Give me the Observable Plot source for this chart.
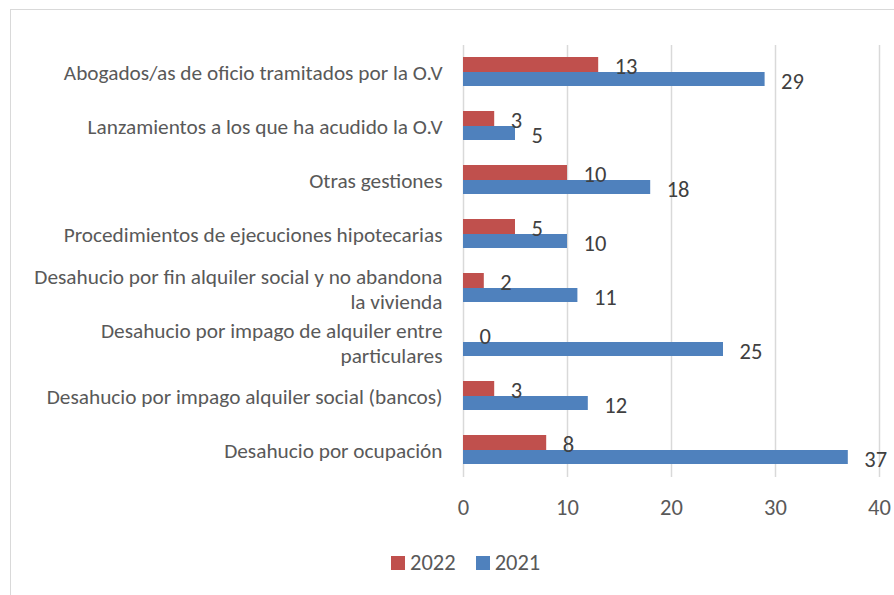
<!DOCTYPE html>
<html>
<head>
<meta charset="utf-8">
<script src="https://cdn.jsdelivr.net/npm/d3@7"></script>
<script src="https://cdn.jsdelivr.net/npm/@observablehq/plot@0.6"></script>
<style>
  html, body { margin: 0; padding: 0; background: #fff; overflow: hidden; }
  #wrap { position: relative; width: 894px; height: 595px; overflow: hidden; font-family: Calibri, Carlito, Lato, sans-serif; }
  #frame { position: absolute; left: 10px; top: 9px; width: 920px; height: 620px; border: 1.5px solid #d9d9d9; box-sizing: border-box; }
  #chart { position: absolute; left: 0; top: 0; }
  #legend { position: absolute; left: 391px; top: 549px; display: flex; align-items: center; font-size: 22.5px; color: #595959; line-height: 28px; }
  #legend .sw { display: inline-block; width: 14px; height: 14px; margin-right: 5px; }
  #legend .item { display: flex; align-items: center; margin-right: 20px; }
</style>
</head>
<body>
<div id="wrap">
  <div id="frame"></div>
  <div id="chart"></div>
  <div id="legend"></div>
</div>
<script>
const categories = [
  "Abogados/as de oficio tramitados por la O.V",
  "Lanzamientos a los que ha acudido la O.V",
  "Otras gestiones",
  "Procedimientos de ejecuciones hipotecarias",
  "Desahucio por fin alquiler social y no abandona la vivienda",
  "Desahucio por impago de alquiler entre particulares",
  "Desahucio por impago alquiler social (bancos)",
  "Desahucio por ocupación"
];
const categoryLabels = [
  "Abogados/as de oficio tramitados por la O.V",
  "Lanzamientos a los que ha acudido la O.V",
  "Otras gestiones",
  "Procedimientos de ejecuciones hipotecarias",
  "Desahucio por fin alquiler social y no abandona\nla vivienda",
  "Desahucio por impago de alquiler entre\nparticulares",
  "Desahucio por impago alquiler social (bancos)",
  "Desahucio por ocupación"
];
const series = ["2022", "2021"];
const values2022 = [13, 3, 10, 5, 2, 0, 3, 8];
const values2021 = [29, 5, 18, 10, 11, 25, 12, 37];
const xTicks = [0, 10, 20, 30, 40];
const colors = ["#C0504D", "#4F81BD"];

const rows2022 = categories.map((c, i) => ({category: c, series: "2022", value: values2022[i]}));
const rows2021 = categories.map((c, i) => ({category: c, series: "2021", value: values2021[i]}));
const labelOf = new Map(categories.map((c, i) => [c, categoryLabels[i]]));

const valueText = {x: "value", y: "category", text: d => String(d.value),
  textAnchor: "start", dx: 16, fontSize: 22.5, fill: "#404040"};

const chart = Plot.plot({
  width: 894,
  height: 530,
  marginLeft: 463,
  marginRight: 15,
  marginTop: 45,
  marginBottom: 53,
  style: {fontFamily: "Calibri, Carlito, Lato, sans-serif", background: "transparent", fontSize: "22.5px", color: "#595959"},
  x: {domain: [0, 40], ticks: xTicks, tickSize: 0, tickPadding: 22, label: null},
  y: {domain: categories, padding: 0, axis: null},
  color: {domain: series, range: colors},
  marks: [
    Plot.gridX(xTicks, {stroke: "#d9d9d9", strokeOpacity: 1, strokeWidth: 1.5}),
    Plot.barX(rows2022, {x: "value", y: "category", fill: "series", insetTop: 12, insetBottom: 27}),
    Plot.barX(rows2021, {x: "value", y: "category", fill: "series", insetTop: 27, insetBottom: 13}),
    Plot.text(rows2022, {...valueText, dy: -5.5}),
    Plot.text(rows2021, {...valueText, dy: 9}),
    Plot.axisY({anchor: "left", tickSize: 0, tickPadding: 21, fontSize: 21.3, color: "#595959",
      lineHeight: 1.17, tickFormat: d => labelOf.get(d), label: null})
  ]
});
document.getElementById("chart").appendChild(chart);

const legend = document.getElementById("legend");
series.forEach((s, i) => {
  const item = document.createElement("div");
  item.className = "item";
  const sw = document.createElement("span");
  sw.className = "sw";
  sw.style.background = colors[i];
  item.appendChild(sw);
  item.appendChild(document.createTextNode(s));
  legend.appendChild(item);
});
</script>
</body>
</html>
